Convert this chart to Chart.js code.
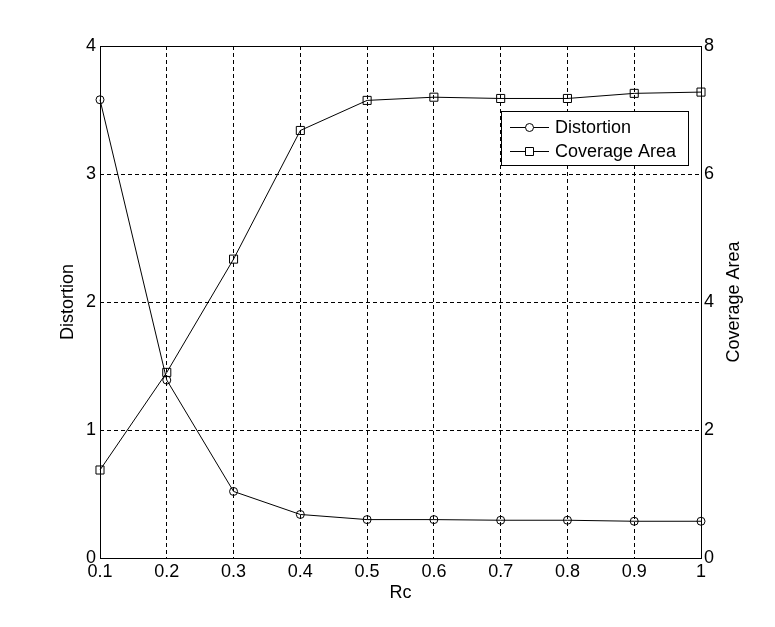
<!DOCTYPE html>
<html>
<head>
<meta charset="utf-8">
<title>Distortion / Coverage Area</title>
<script src="https://cdn.jsdelivr.net/npm/chart.js@4/dist/chart.umd.min.js"></script>
<style>
  html, body { margin: 0; padding: 0; background: #fff; }
  #wrap { width: 775px; height: 627px; }
</style>
</head>
<body>
<div id="wrap"><canvas id="rcChart" width="775" height="627"></canvas></div>
<script>
/* ========= DATA ========= */

const rcLabels = ["0.1", "0.2", "0.3", "0.4", "0.5", "0.6", "0.7", "0.8", "0.9", "1"];
const distortion = [3.58, 1.39, 0.52, 0.34, 0.30, 0.30, 0.295, 0.295, 0.287, 0.287];
const coverageArea = [1.375, 2.90, 4.67, 6.68, 7.15, 7.20, 7.18, 7.18, 7.26, 7.28];

const leftTicks = [0, 1, 2, 3, 4];
const rightTicks = [0, 2, 4, 6, 8];


/* ========= STYLE ========= */

const FONT = "'Liberation Sans', Arial, sans-serif";
const DASH = [4, 3];


/* ========= PLUGIN: frame, legend, right title ========= */

const matlabLook = {
  id: "matlabLook",
  beforeDraw(chart) {
    const ctx = chart.ctx;
    ctx.save();
    ctx.fillStyle = "#fff";
    ctx.fillRect(0, 0, chart.width, chart.height);
    ctx.restore();
  },
  afterDraw(chart) {
    const { ctx, chartArea: a } = chart;
    ctx.save();

    // box round the axes
    ctx.strokeStyle = "#000";
    ctx.lineWidth = 1;
    ctx.setLineDash([]);
    ctx.strokeRect(Math.round(a.left) + 0.5, Math.round(a.top) + 0.5,
      Math.round(a.right - a.left), Math.round(a.bottom - a.top));

    // right axis title, read bottom to top
    ctx.font = "18px " + FONT;
    ctx.fillStyle = "#000";
    ctx.textAlign = "center";
    ctx.textBaseline = "middle";
    ctx.translate(734, (a.top + a.bottom) / 2);
    ctx.rotate(-Math.PI / 2);
    ctx.fillText("Coverage Area", 0, 0);
    ctx.setTransform(1, 0, 0, 1, 0, 0);

    // legend box
    const bx = 501.5, by = 111.5, bw = 187, bh = 54;
    ctx.fillStyle = "#fff";
    ctx.fillRect(bx, by, bw, bh);
    ctx.strokeRect(bx, by, bw, bh);

    ctx.textAlign = "left";
    chart.data.datasets.forEach((ds, i) => {
      const y = Math.round(by + 15 + i * 24.5) + 0.5;
      ctx.beginPath();
      ctx.moveTo(510, y);
      ctx.lineTo(549, y);
      ctx.stroke();
      ctx.beginPath();
      if (ds.pointStyle === "rect") {
        ctx.rect(525.5, y - 4, 8, 8);
      } else {
        ctx.arc(529.5, y, 4, 0, Math.PI * 2);
      }
      ctx.fillStyle = "#fff";
      ctx.fill();
      ctx.stroke();
      ctx.fillStyle = "#000";
      ctx.fillText(ds.label, 555, y + 1);
    });

    ctx.restore();
  }
};


/* ========= CHART ========= */

function loadChart() {
  const canvas = document.getElementById("rcChart");

  new Chart(canvas, {
    type: "line",
    data: {
      labels: rcLabels,
      datasets: [{
        label: "Distortion",
        data: distortion,
        yAxisID: "y",
        borderColor: "#000",
        borderWidth: 1,
        tension: 0,
        fill: false,
        pointStyle: "circle",
        pointRadius: 4,
        pointBorderWidth: 1,
        pointBorderColor: "#000",
        pointBackgroundColor: "rgba(0,0,0,0)"
      }, {
        label: "Coverage Area",
        data: coverageArea,
        yAxisID: "y1",
        borderColor: "#000",
        borderWidth: 1,
        tension: 0,
        fill: false,
        pointStyle: "rect",
        pointRadius: 5.7,
        pointBorderWidth: 1,
        pointBorderColor: "#000",
        pointBackgroundColor: "rgba(0,0,0,0)"
      }]
    },
    options: {
      responsive: false,
      animation: false,
      devicePixelRatio: 1,
      layout: { padding: { top: 46, left: 0, right: 0, bottom: 0 } },
      plugins: {
        legend: { display: false },
        tooltip: { enabled: false }
      },
      scales: {
        x: {
          offset: false,
          afterFit: s => { s.height = 69; },
          grid: { color: "#000", lineWidth: 1, drawTicks: false },
          border: { display: false, dash: DASH },
          ticks: { color: "#000", font: { family: FONT, size: 18 }, padding: 3, maxRotation: 0, autoSkip: false },
          title: { display: true, text: "Rc", color: "#000", font: { family: FONT, size: 18 }, padding: { top: 0, bottom: 23 } }
        },
        y: {
          position: "left",
          min: 0,
          max: 4,
          afterFit: s => { s.width = 100; },
          afterBuildTicks: s => { s.ticks = leftTicks.map(v => ({ value: v })); },
          grid: { color: "#000", lineWidth: 1, drawTicks: false },
          border: { display: false, dash: DASH },
          ticks: { color: "#000", font: { family: FONT, size: 18 }, padding: 4 },
          title: { display: true, text: "Distortion", color: "#000", font: { family: FONT, size: 18 }, padding: { top: 57, bottom: 0 } }
        },
        y1: {
          position: "right",
          min: 0,
          max: 8,
          afterFit: s => { s.width = 74; },
          afterBuildTicks: s => { s.ticks = rightTicks.map(v => ({ value: v })); },
          grid: { display: false, drawTicks: false },
          border: { display: false },
          ticks: { color: "#000", font: { family: FONT, size: 18 }, padding: 3 }
        }
      }
    },
    plugins: [matlabLook]
  });
}


/* ========= INIT ========= */

document.addEventListener("DOMContentLoaded", loadChart);
</script>
</body>
</html>
